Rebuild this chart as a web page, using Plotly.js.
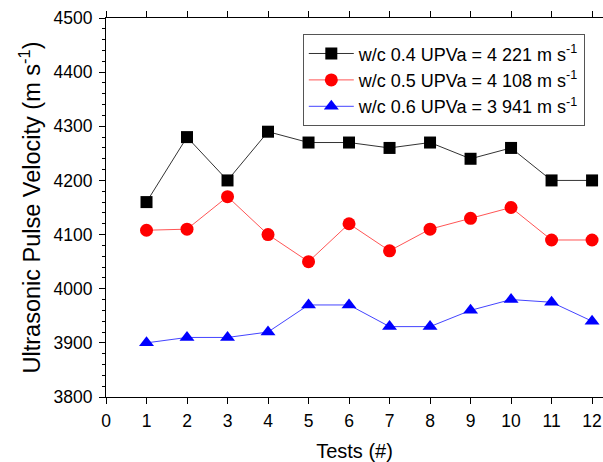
<!DOCTYPE html>
<html><head><meta charset="utf-8">
<script src="https://cdn.plot.ly/plotly-3.0.1.min.js"></script>
<style>body{margin:0;background:#fff}#c{width:603px;height:462px}</style>
</head><body><div id="c"></div>
<script>
const tests = [1,2,3,4,5,6,7,8,9,10,11,12];
const wc04 = [4160,4280,4200,4290,4270,4270,4260,4270,4240,4260,4200,4200];
const wc05 = [4108,4110,4170,4100,4050,4120,4070,4110,4130,4150,4090,4090];
const wc06 = [3900,3910,3910,3920,3970,3970,3930,3930,3960,3980,3975,3940];
const names = ['w/c 0.4 UPVa = 4 221 m s<sup>-1</sup>','w/c 0.5 UPVa = 4 108 m s<sup>-1</sup>','w/c 0.6 UPVa = 3 941 m s<sup>-1</sup>'];
const xTicks = [0,1,2,3,4,5,6,7,8,9,10,11,12];
const yTicks = [3800,3900,4000,4100,4200,4300,4400,4500];

const traces = [
 {x:tests,y:wc04,name:names[0],mode:'lines+markers',line:{color:'#333333',width:1},marker:{symbol:'square',size:12,color:'#000000'}},
 {x:tests,y:wc05,name:names[1],mode:'lines+markers',line:{color:'#ff5555',width:1},marker:{symbol:'circle',size:13,color:'#ff0000'}},
 {x:tests,y:wc06,name:names[2],mode:'lines+markers',line:{color:'#4444ff',width:1},marker:{symbol:'triangle-up',size:13,color:'#0000ff'}}
];
const font = {family:'Liberation Sans, Arial, sans-serif',size:17.5,color:'#000'};
const layout = {
 width:603,height:462,margin:{l:106,r:0,t:18,b:65},
 paper_bgcolor:'#fff',plot_bgcolor:'#fff',font:font,showlegend:true,
 xaxis:{range:[0,12.27],tickvals:xTicks,ticktext:xTicks.map(String),showgrid:false,zeroline:false,
   showline:true,linecolor:'#000',linewidth:1,ticks:'outside',ticklen:6,tickcolor:'#000',mirror:'allticks',
   ticklabelstandoff:2,
   title:{text:'Tests (#)',font:{size:20},standoff:13},tickfont:{size:17.5}},
 yaxis:{range:[3800,4500],tickvals:yTicks,ticktext:yTicks.map(String),showgrid:false,zeroline:false,
   showline:true,linecolor:'#000',linewidth:1,ticks:'outside',ticklen:6,tickcolor:'#000',
   ticklabelstandoff:3,
   minor:{dtick:20,ticks:'outside',ticklen:3,tickcolor:'#000'},
   title:{text:'Ultrasonic Pulse Velocity (m s<sup>-1</sup>)',font:{size:23.5},standoff:6},tickfont:{size:17.5}},
 legend:{x:0.396,y:0.957,xanchor:'left',yanchor:'top',bordercolor:'#555',borderwidth:1,bgcolor:'#fff',
   font:{size:18},tracegroupgap:0,itemwidth:45}
};
Plotly.newPlot('c',traces,layout,{displayModeBar:false,staticPlot:true});
</script></body></html>
